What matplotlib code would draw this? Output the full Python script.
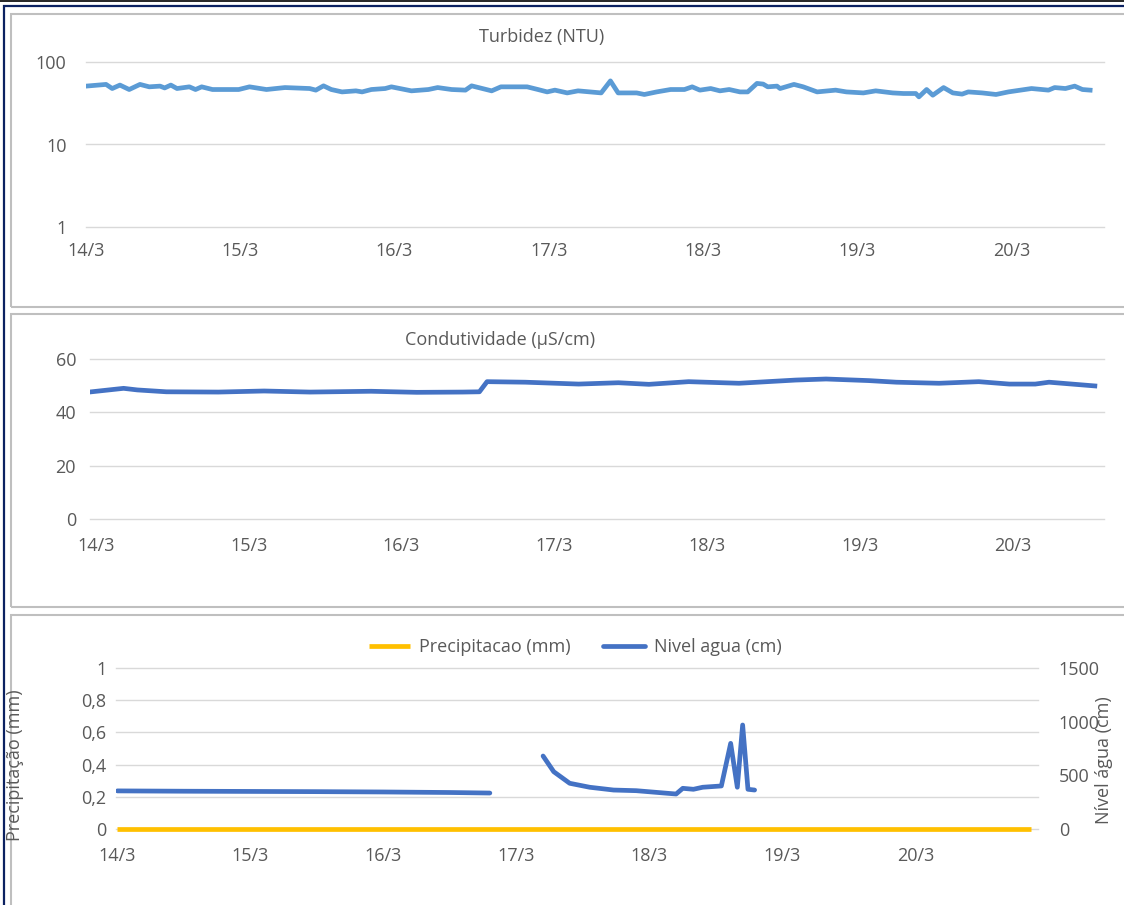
import numpy as np
import matplotlib.pyplot as plt
from matplotlib.patches import Rectangle
from matplotlib.lines import Line2D

plt.rcParams['font.family'] = ['Open Sans', 'DejaVu Sans']

# eixo x comum: dias a partir de 14/3
dias = ['14/3', '15/3', '16/3', '17/3', '18/3', '19/3', '20/3']

# Turbidez (NTU)
t_turb = [0.00, 0.13, 0.17, 0.22, 0.28, 0.35, 0.41, 0.48, 0.51, 0.55, 0.59, 0.67, 0.71, 0.75, 0.82,
          0.99, 1.06, 1.17, 1.29, 1.45, 1.49, 1.54, 1.59, 1.66, 1.75, 1.79, 1.85, 1.94, 1.98,
          2.11, 2.22, 2.28, 2.37, 2.46, 2.50, 2.63, 2.69, 2.86, 2.93, 2.99, 3.04, 3.12, 3.19,
          3.34, 3.40, 3.45, 3.57, 3.62, 3.70, 3.79, 3.88, 3.93, 3.98, 4.05, 4.11, 4.17, 4.24,
          4.29, 4.35, 4.39, 4.42, 4.48, 4.50, 4.59, 4.65, 4.74, 4.86, 4.93, 5.04, 5.12, 5.23,
          5.30, 5.38, 5.40, 5.45, 5.49, 5.56, 5.62, 5.68, 5.72, 5.81, 5.90, 5.98, 6.13, 6.24,
          6.28, 6.35, 6.41, 6.46, 6.51]
turbidez = [51, 53.5, 47.7, 52.5, 46.4, 53.5, 50, 51, 48.5, 52.5, 47.7, 50, 46.4, 50, 46.4,
            46.4, 50, 46.4, 49, 47.7, 45.6, 51.4, 46.4, 43.4, 44.7, 43.4, 46.4, 47.7, 50,
            44.7, 46.4, 49, 46.4, 45.6, 51.4, 44.7, 50, 50, 46.4, 43.4, 45.6, 42.2, 44.7,
            42.2, 59, 42.2, 42.2, 40.4, 43.4, 46.4, 46.4, 50, 45.6, 47.7, 44.7, 46.4, 43.4,
            43.4, 55, 54, 50, 51, 47.7, 53.5, 50, 43.4, 45.6, 43.4, 42.2, 44.7, 42.2,
            41.5, 41.5, 37.8, 46.4, 39.6, 49, 42.2, 40.8, 43.4, 42.2, 40.4, 43.4, 47.7, 45.6,
            49, 47.7, 51, 46.4, 45.6]

# Condutividade (uS/cm)
t_cond = [-0.03, 0.18, 0.27, 0.46, 0.8, 1.1, 1.4, 1.8, 2.1, 2.4, 2.51, 2.56, 2.81, 3.16, 3.42,
          3.62, 3.88, 4.21, 4.58, 4.78, 5.06, 5.24, 5.52, 5.78, 5.98, 6.15, 6.24, 6.54]
condutividade = [47.7, 49.0, 48.4, 47.7, 47.6, 48.0, 47.6, 47.9, 47.5, 47.6, 47.7, 51.5, 51.3,
                 50.6, 51.1, 50.5, 51.5, 50.9, 52.1, 52.5, 51.9, 51.3, 50.9, 51.5, 50.6, 50.6,
                 51.3, 49.9]

# Precipitacao (mm) e Nivel agua (cm)
t_prec = [0.0, 1.0, 2.0, 3.0, 4.0, 5.0, 6.0, 6.87]
precipitacao = [0, 0, 0, 0, 0, 0, 0, 0]
t_nivel = [0.0, 0.5, 1.0, 1.5, 2.0, 2.5, 2.8, 3.0,
           3.20, 3.28, 3.40, 3.55, 3.73, 3.90, 4.20, 4.25, 4.33, 4.40, 4.54, 4.61, 4.66,
           4.70, 4.74, 4.79]
nivel = [355, 352, 350, 348, 345, 340, 335, np.nan,
         680, 534, 426, 389, 363, 357, 326, 379, 370, 389, 401, 798, 389, 969, 370, 363]

W, H = 1124, 905
cinza_txt = '#595959'
grade = '#D9D9D9'
fs = 13
fig = plt.figure(figsize=(W / 100, H / 100), dpi=100)


def px(x0, y0, x1, y1):
    return [x0 / W, 1 - y1 / H, (x1 - x0) / W, (y1 - y0) / H]


# molduras
fig.add_artist(Line2D([0, 1], [1 - 0.6 / H] * 2, color='black', lw=1.2))
fig.add_artist(Rectangle((3.5 / W, -0.1), 1.2, 1 - 6 / H + 0.1, transform=fig.transFigure,
                         fill=False, ec='#0B2161', lw=1.6))
for y0, y1 in [(14, 306.5), (314.5, 606.5), (614.5, 960)]:
    fig.add_artist(Rectangle((10.5 / W, 1 - y1 / H), 1.2, (y1 - y0) / H,
                             transform=fig.transFigure, fill=False, ec='#BFBFBF', lw=1.5))


def estilo(ax, pad_y, pad_x):
    for s in ax.spines.values():
        s.set_visible(False)
    ax.grid(axis='y', color=grade, lw=1.0)
    ax.set_axisbelow(True)
    ax.tick_params(length=0, labelsize=fs, colors=cinza_txt)
    ax.tick_params(axis='y', pad=pad_y)
    ax.tick_params(axis='x', pad=pad_x)
    ax.set_xticks(range(7))
    ax.set_xticklabels(dias)
    for g in ax.get_ygridlines():
        g.set_clip_on(False)


# Turbidez
ax1 = fig.add_axes(px(86, 62, 1104, 227))
ax1.plot(t_turb, turbidez, color='#5B9BD5', lw=3.4, solid_joinstyle='round')
ax1.set_yscale('log')
ax1.set_ylim(1, 100)
ax1.set_xlim(0, 6.6)
ax1.set_yticks([1, 10, 100])
ax1.set_yticklabels(['1', '10', '100'])
ax1.minorticks_off()
estilo(ax1, 14, 11)
fig.text(542 / W, 1 - 37 / H, 'Turbidez (NTU)', ha='center', va='center', fontsize=fs, color=cinza_txt)

# Condutividade
ax2 = fig.add_axes(px(90, 359, 1104, 519))
ax2.plot(t_cond, condutividade, color='#4472C4', lw=3.4, solid_joinstyle='round')
ax2.set_ylim(0, 60)
ax2.set_xlim(-0.04, 6.60)
ax2.set_yticks([0, 20, 40, 60])
estilo(ax2, 10, 13)
fig.text(500 / W, 1 - 340 / H, 'Condutividade (µS/cm)', ha='center', va='center', fontsize=fs, color=cinza_txt)

# Precipitacao / Nivel
ax3 = fig.add_axes(px(116, 668, 1038, 829))
l1, = ax3.plot(t_prec, precipitacao, color='#FFC000', lw=3.4, solid_capstyle='butt',
               zorder=3, clip_on=False)
ax3.set_ylim(0, 1)
ax3.set_xlim(-0.01, 6.92)
ax3.set_yticks([0, 0.2, 0.4, 0.6, 0.8, 1])
ax3.set_yticklabels(['0', '0,2', '0,4', '0,6', '0,8', '1'])
estilo(ax3, 7, 13)
ax4 = ax3.twinx()
l2, = ax4.plot(t_nivel, nivel, color='#4472C4', lw=3.4, solid_joinstyle='round', solid_capstyle='round')
ax4.set_ylim(0, 1500)
ax4.set_yticks([0, 500, 1000, 1500])
for s in ax4.spines.values():
    s.set_visible(False)
ax4.tick_params(length=0, labelsize=fs, colors=cinza_txt, pad=15)
fig.text(15 / W, 1 - 765 / H, 'Precipitação (mm)', rotation=90, ha='center', va='center',
         fontsize=fs, color=cinza_txt)
fig.text(1104 / W, 1 - 760 / H, 'Nível água (cm)', rotation=90, ha='center', va='center',
         fontsize=fs, color=cinza_txt)
fig.legend([l1, l2], ['Precipitacao (mm)', 'Nivel agua (cm)'], loc='center',
           bbox_to_anchor=(575 / W, 1 - 647 / H), ncol=2, frameon=False, fontsize=fs,
           handlelength=2.3, handletextpad=0.5, columnspacing=1.8, labelcolor=cinza_txt)

fig.savefig('out.png', dpi=100)
